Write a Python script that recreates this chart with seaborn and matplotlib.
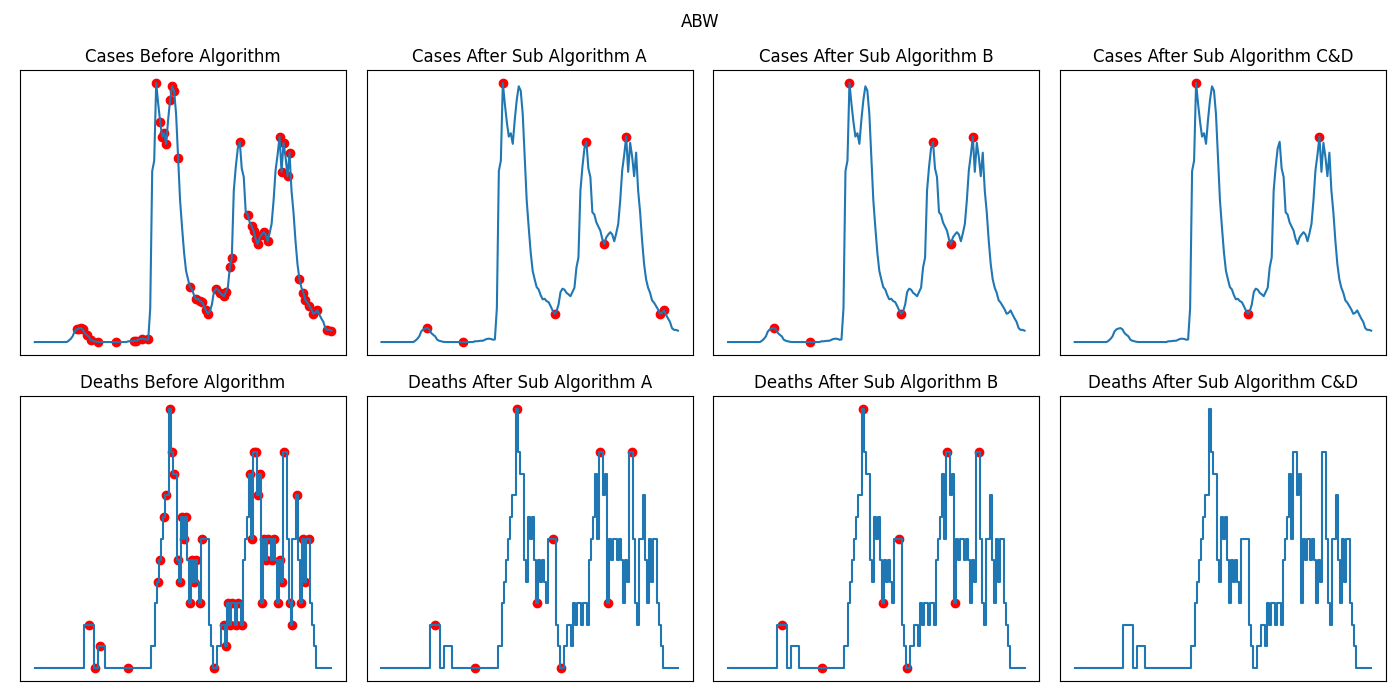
import numpy as np
import pandas as pd
import matplotlib
matplotlib.use("Agg")
import matplotlib.pyplot as plt
import seaborn as sns

country = "ABW"

cases = [0]*17 + [
    0.5, 1.2, 2.2, 4.1, 4.9, 5.2, 5.4, 4.9, 3.5, 2.8, 2.2, 0.9, 0.5, 0.3, 0.1,
] + [0]*15 + [
    0.3, 0.3, 0.4, 0.5, 0.5, 0.9, 1.2, 1.3, 1.2, 0.9, 1.0, 13, 66, 70,
    100, 92, 85, 79.3, 80.6, 76.5, 85.8, 93.5, 98.7, 97.0, 88, 71.2, 54.7, 44.3,
    34.6, 27.5, 24.2, 21.2, 20.3, 18.1, 16.5, 16.7, 15.8, 15.4, 13.9, 12.2, 10.9,
    11.9, 14.5, 19.3, 20.6, 20.2, 19.0, 18.4, 17.7, 19.4, 21.0, 28.8, 32.6, 58.5,
    67.6, 74.7, 77.3, 67.0, 63.7, 50.1, 49.2, 46.2, 44.6, 43.0, 39.8, 37.8, 40.4,
    41.5, 42.4, 41.5, 38.9, 42.0, 45.6, 54.7, 66.3, 72.2, 79.3, 65.7, 76.9, 71.5,
    64.0, 73.1, 58.5, 50.1, 39.1, 30.1, 24.2, 21.0, 19.0, 16.1, 15.2, 13.9, 12.6,
    10.9, 11.3, 12.2, 10.6, 9.1, 7.8, 5.4, 4.7, 4.7, 4.4,
]

deaths = [0]*25 + [2, 2, 2, 2, 2, 0, 0, 1, 1, 1, 1] + [0]*23 + [
    1, 1, 3, 4, 5, 6, 7, 8, 8, 12, 10, 9, 9, 5, 4, 7, 6, 7, 5, 3,
    5, 4, 5, 4, 3, 6, 6, 6, 6, 2, 1, 0, 0, 1, 1, 2, 2, 1, 3, 2,
    3, 3, 2, 3, 3, 2, 5, 6, 7, 9, 6, 10, 10, 8, 9, 3, 6, 5, 6, 6,
    5, 6, 5, 3, 5, 4, 10, 10, 6, 3, 2, 6, 6, 8, 5, 3, 6, 4, 6, 6,
    3, 2, 1,
] + [0]*8

days = list(range(len(cases)))

cases_before = [21, 22, 23, 24, 26, 28, 32, 41, 50, 51, 54, 57, 61, 63, 64, 65,
                66, 68, 69, 70, 72, 78, 81, 83, 84, 86, 87, 91, 93, 95, 96, 98,
                99, 103, 107, 109, 110, 111, 112, 114, 115, 117, 123, 124, 125,
                127, 128, 133, 135, 136, 138, 140, 142, 147, 149]
cases_a = [23, 41, 61, 87, 103, 112, 123, 140, 142]
cases_b = [23, 41, 61, 87, 103, 112, 123]
cases_cd = [61, 87, 123]

deaths_before = [27, 30, 33, 47, 62, 63, 65, 66, 68, 69, 70, 72, 73, 74, 75, 76,
                 78, 79, 80, 81, 83, 84, 90, 95, 96, 97, 98, 99, 101, 102, 104,
                 108, 109, 110, 111, 112, 113, 114, 115, 116, 117, 119, 120, 122,
                 123, 124, 125, 128, 129, 132, 134, 135, 136, 138]
deaths_a = [27, 47, 68, 78, 86, 90, 110, 114, 126]
deaths_b = [27, 47, 68, 78, 86, 90, 110, 114, 126]
deaths_cd = []

stages = ["Before Algorithm", "After Sub Algorithm A",
          "After Sub Algorithm B", "After Sub Algorithm C&D"]

rows = [("Cases", cases, [cases_before, cases_a, cases_b, cases_cd], "default"),
        ("Deaths", deaths, [deaths_before, deaths_a, deaths_b, deaths_cd], "steps-mid")]

fig, axes = plt.subplots(2, 4, figsize=(14, 7), dpi=100)
fig.subplots_adjust(left=20/1400, right=1386/1400, top=1-70/700,
                    bottom=1-681/700, wspace=20.5/326, hspace=41/285)
for r, (name, series, peak_sets, ds) in enumerate(rows):
    df = pd.DataFrame({"day": days, "value": series})
    for c, stage in enumerate(stages):
        ax = axes[r, c]
        idx = peak_sets[c]
        if idx:
            pts = df.iloc[idx]
            sns.scatterplot(x=pts["day"].values, y=pts["value"].values, ax=ax,
                            color="red", s=36, edgecolor="red", linewidth=1,
                            zorder=1)
        sns.lineplot(x=df["day"].values, y=df["value"].values, ax=ax,
                     color="#1f77b4", linewidth=1.5, zorder=2, drawstyle=ds)
        ax.set_title(f"{name} {stage}")
        ax.set_xticks([])
        ax.set_yticks([])
        ax.set_xlabel("")
        ax.set_ylabel("")

fig.suptitle(country, y=1-22/700, va="center")
fig.savefig("out.png", dpi=100)
